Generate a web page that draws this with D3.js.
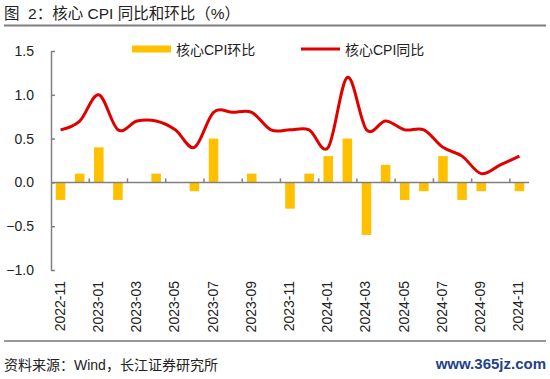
<!DOCTYPE html>
<html>
<head>
<meta charset="utf-8">
<script src="https://cdn.jsdelivr.net/npm/d3@7"></script>
<style>
  body { margin: 0; background: #fff; }
  text { font-family: "Liberation Sans", Arial, "Noto Sans CJK SC", sans-serif; }
  .cjk { font-family: "Liberation Sans", "Noto Sans CJK SC", sans-serif; }
</style>
</head>
<body>
<div id="chart"></div>
<script>
(function () {

  // data
  const months = ["2022-11", "2022-12", "2023-01", "2023-02", "2023-03", "2023-04", "2023-05",
    "2023-06", "2023-07", "2023-08", "2023-09", "2023-10", "2023-11", "2023-12", "2024-01",
    "2024-02", "2024-03", "2024-04", "2024-05", "2024-06", "2024-07", "2024-08", "2024-09",
    "2024-10", "2024-11"];
  const momValues = [-0.2, 0.1, 0.4, -0.2, 0.0, 0.1, 0.0, -0.1, 0.5, 0.0, 0.1, 0.0, -0.3, 0.1,
    0.3, 0.5, -0.6, 0.2, -0.2, -0.1, 0.3, -0.2, -0.1, 0.0, -0.1];
  const yoyValues = [0.6, 0.7, 1.0, 0.6, 0.7, 0.7, 0.6, 0.4, 0.8, 0.8, 0.8, 0.6, 0.6, 0.6,
    0.4, 1.2, 0.6, 0.7, 0.6, 0.6, 0.4, 0.3, 0.1, 0.2, 0.3];
  const yTicks = [-1.0, -0.5, 0.0, 0.5, 1.0, 1.5];
  const momName = "核心CPI环比";
  const yoyName = "核心CPI同比";

  // chart settings
  const svg_width = 550;
  const svg_height = 379;
  const plot = { left: 51, right: 529, top: 51, bottom: 270 };
  const barColor = "#FFC000";
  const lineColor = "#E00000";
  const axisColor = "#808080";

  const svg = d3.select("#chart").append("svg")
    .attr("width", svg_width)
    .attr("height", svg_height);

  // scales
  const x = d3.scaleBand()
    .domain(months)
    .range([plot.left, plot.right])
    .paddingInner(0.5)
    .paddingOuter(0.25);
  const xc = d => x(d) + x.bandwidth() / 2;
  const y = d3.scaleLinear()
    .domain([-1.0, 1.5])
    .range([plot.bottom, plot.top]);

  // title
  svg.append("text")
    .attr("class", "cjk")
    .attr("x", 4)
    .attr("y", 19)
    .attr("font-size", 15.5)
    .attr("fill", "#222")
    .attr("xml:space", "preserve")
    .style("white-space", "pre")
    .text("图  2：核心 CPI 同比和环比（%）");
  svg.append("line")
    .attr("x1", 4).attr("x2", 546)
    .attr("y1", 25.5).attr("y2", 25.5)
    .attr("stroke", "#7f7f7f")
    .attr("stroke-width", 2);

  // bars
  const barData = months.map((m, i) => ({ m: m, v: momValues[i] }));
  svg.selectAll(".bar")
    .data(barData)
    .enter().append("rect")
    .attr("class", "bar")
    .attr("x", d => x(d.m))
    .attr("width", x.bandwidth())
    .attr("y", d => y(Math.max(0, d.v)))
    .attr("height", d => Math.abs(y(d.v) - y(0)))
    .attr("fill", barColor);

  // y axis
  const yAxis = svg.append("g")
    .attr("transform", "translate(" + plot.left + ",0)")
    .call(d3.axisLeft(y).tickValues(yTicks).tickFormat(d3.format(".1f")).tickSizeInner(-4).tickSizeOuter(0).tickPadding(17));
  yAxis.select(".domain").attr("stroke", axisColor).attr("stroke-width", 1.5);
  yAxis.selectAll(".tick line").attr("stroke", axisColor).attr("stroke-width", 1.5);
  yAxis.selectAll(".tick text").attr("font-size", 14).attr("fill", "#222");

  // x axis at zero
  const boundaryTicks = months.filter((m, i) => i % 2 === 0 && i > 0);
  const xAxis = svg.append("g")
    .attr("transform", "translate(0," + y(0) + ")");
  xAxis.append("line")
    .attr("x1", plot.left).attr("x2", plot.right)
    .attr("stroke", axisColor).attr("stroke-width", 1.5);
  xAxis.selectAll(".xtick")
    .data(boundaryTicks)
    .enter().append("line")
    .attr("class", "xtick")
    .attr("x1", d => x(d) - x.step() * x.paddingInner() / 2)
    .attr("x2", d => x(d) - x.step() * x.paddingInner() / 2)
    .attr("y1", 0).attr("y2", -4)
    .attr("stroke", axisColor).attr("stroke-width", 1.5);

  // x labels
  svg.selectAll(".xlabel")
    .data(months.filter((m, i) => i % 2 === 0))
    .enter().append("text")
    .attr("class", "xlabel")
    .attr("transform", d => "translate(" + (xc(d) + 4) + ",281) rotate(-90)")
    .attr("text-anchor", "end")
    .attr("font-size", 14)
    .attr("fill", "#222")
    .text(d => d);

  // line
  const line = d3.line()
    .x((d, i) => xc(months[i]))
    .y(d => y(d))
    .curve(d3.curveCatmullRom.alpha(0));
  svg.append("path")
    .datum(yoyValues)
    .attr("d", line)
    .attr("fill", "none")
    .attr("stroke", lineColor)
    .attr("stroke-width", 3);

  // legend
  svg.append("rect")
    .attr("x", 132).attr("y", 45.5)
    .attr("width", 39).attr("height", 7)
    .attr("fill", barColor);
  svg.append("text")
    .attr("class", "cjk")
    .attr("x", 176).attr("y", 54.5)
    .attr("font-size", 14)
    .attr("fill", "#222")
    .text(momName);
  svg.append("line")
    .attr("x1", 301).attr("x2", 340)
    .attr("y1", 49).attr("y2", 49)
    .attr("stroke", lineColor).attr("stroke-width", 3);
  svg.append("text")
    .attr("class", "cjk")
    .attr("x", 345).attr("y", 54.5)
    .attr("font-size", 14)
    .attr("fill", "#222")
    .text(yoyName);

  // footer
  svg.append("line")
    .attr("x1", 4).attr("x2", 546)
    .attr("y1", 341).attr("y2", 341)
    .attr("stroke", "#333")
    .attr("stroke-width", 1);
  svg.append("text")
    .attr("class", "cjk")
    .attr("x", 4).attr("y", 370)
    .attr("font-size", 14)
    .attr("fill", "#222")
    .text("资料来源：Wind，长江证券研究所");
  svg.append("text")
    .attr("x", 546).attr("y", 369)
    .attr("text-anchor", "end")
    .attr("font-family", "'DejaVu Serif', 'Liberation Serif', serif")
    .attr("font-size", 15)
    .attr("font-weight", "bold")
    .attr("fill", "#1f3f8f")
    .text("www.365jz.com");

})();
</script>
</body>
</html>
